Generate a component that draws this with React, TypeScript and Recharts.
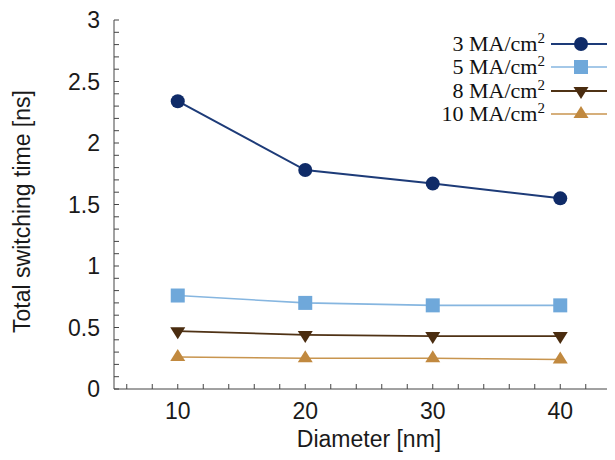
import { LineChart, Line, XAxis, YAxis, Legend, Label } from "recharts";

const diameters = [10, 20, 30, 40];
const time3 = [2.34, 1.78, 1.67, 1.55];
const time5 = [0.76, 0.7, 0.68, 0.68];
const time8 = [0.47, 0.44, 0.43, 0.43];
const time10 = [0.26, 0.25, 0.25, 0.24];
const seriesNames = ["3 MA/cm²", "5 MA/cm²", "8 MA/cm²", "10 MA/cm²"];

const xLabels = [10, 20, 30, 40];
const xTicks = Array.from({ length: 20 }, (_, i) => 6 + 2 * i);
const yLabels = [0, 0.5, 1, 1.5, 2, 2.5, 3];
const yTicks = Array.from({ length: 31 }, (_, i) => i / 10);

const data = diameters.map((d, i) => ({
  d,
  s3: time3[i],
  s5: time5[i],
  s8: time8[i],
  s10: time10[i],
}));

const series = [
  { key: "s3", name: seriesNames[0], fill: "#0f2b68", stroke: "#1d3b78", width: 2, shape: "circle" },
  { key: "s5", name: seriesNames[1], fill: "#6fa8da", stroke: "#86b6e0", width: 1.6, shape: "square" },
  { key: "s8", name: seriesNames[2], fill: "#4a2c0f", stroke: "#4f3215", width: 1.8, shape: "down" },
  { key: "s10", name: seriesNames[3], fill: "#c1893f", stroke: "#c8954f", width: 1.6, shape: "up" },
];

const SANS = '"Liberation Sans", Arial, sans-serif';
const SERIF = '"Liberation Serif", "Times New Roman", serif';
const AXIS = "#444";

function marker(shape: string, fill: string, cx: number, cy: number, key?: string) {
  if (shape === "circle") return <circle key={key} cx={cx} cy={cy} r={7} fill={fill} />;
  if (shape === "square") return <rect key={key} x={cx - 7} y={cy - 7} width={14} height={14} fill={fill} />;
  if (shape === "down")
    return <polygon key={key} points={`${cx - 7.5},${cy - 4} ${cx + 7.5},${cy - 4} ${cx},${cy + 8}`} fill={fill} />;
  return <polygon key={key} points={`${cx - 7.5},${cy + 4} ${cx + 7.5},${cy + 4} ${cx},${cy - 8}`} fill={fill} />;
}

const BottomTick = (p: any) => {
  const v = p.payload.value;
  return (
    <g>
      <line x1={p.x} x2={p.x} y1={p.y} y2={p.y - 5} stroke={AXIS} />
      {xLabels.includes(v) && (
        <text x={p.x} y={p.y + 30} textAnchor="middle" fontSize={23} fontFamily={SANS} fill="#1a1a1a">
          {v}
        </text>
      )}
    </g>
  );
};

const TopTick = (p: any) => <line x1={p.x} x2={p.x} y1={p.y} y2={p.y + 5} stroke={AXIS} />;

const LeftTick = (p: any) => {
  const v = p.payload.value;
  const major = yLabels.some((l) => Math.abs(l - v) < 1e-6);
  return (
    <g>
      <line x1={p.x} x2={p.x + 5} y1={p.y} y2={p.y} stroke={AXIS} />
      {major && (
        <text x={p.x - 14} y={p.y + 8} textAnchor="end" fontSize={23} fontFamily={SANS} fill="#1a1a1a">
          {Math.round(v * 10) / 10}
        </text>
      )}
    </g>
  );
};

const YTitle = (p: any) => {
  const vb = p.viewBox;
  const cx = vb.x + 4;
  const cy = vb.y + vb.height / 2 + 7;
  return (
    <text
      x={cx + 8}
      y={cy}
      transform={`rotate(-90 ${cx + 8} ${cy})`}
      textAnchor="middle"
      fontSize={23}
      fontFamily={SANS}
      fill="#1a1a1a"
    >
      Total switching time [ns]
    </text>
  );
};

// the "²" is drawn as a raised digit, like the original legend
const legendText = (name: string) => {
  const [base] = name.split("²");
  return (
    <span style={{ fontFamily: SERIF, fontSize: 22, lineHeight: 1, color: "#111", whiteSpace: "nowrap" }}>
      {base}
      <span style={{ fontSize: 15, position: "relative", top: -8 }}>2</span>
    </span>
  );
};

const LegendBox = (props: any) => {
  const items = props.payload || [];
  return (
    <div>
      {series.map((s) => {
        const item = items.find((it: any) => it.dataKey === s.key);
        if (!item) return null;
        return (
          <div
            key={s.key}
            style={{ height: 23.5, display: "flex", justifyContent: "flex-end", alignItems: "center" }}
          >
            {legendText(String(item.value))}
            <svg width={60} height={20} style={{ marginLeft: 6 }}>
              <line x1={0} x2={60} y1={10} y2={10} stroke={s.stroke} strokeWidth={s.width} />
              {marker(s.shape, s.fill, 30, 10)}
            </svg>
          </div>
        );
      })}
    </div>
  );
};

export default function App() {
  return (
    <div style={{ width: 605, height: 444, overflow: "hidden" }}>
      <LineChart width={620} height={444} data={data} margin={{ top: 12, right: 4, bottom: 1, left: 10 }}>
        <XAxis
          dataKey="d"
          type="number"
          domain={[5, 45]}
          ticks={xTicks}
          interval={0}
          tickSize={0}
          tickMargin={0}
          tickLine={false}
          tick={BottomTick}
          height={62}
          axisLine={{ stroke: AXIS }}
        >
          <Label value="Diameter [nm]" position="insideBottom" offset={4} fontSize={23} fontFamily={SANS} fill="#1a1a1a" />
        </XAxis>
        <XAxis
          xAxisId="top"
          dataKey="d"
          type="number"
          orientation="top"
          domain={[5, 45]}
          ticks={xTicks}
          interval={0}
          tickSize={0}
          tickMargin={0}
          tickLine={false}
          tick={TopTick}
          height={0}
          axisLine={{ stroke: AXIS }}
        />
        <YAxis
          type="number"
          domain={[0, 3]}
          ticks={yTicks}
          interval={0}
          tickSize={0}
          tickMargin={0}
          tickLine={false}
          tick={LeftTick}
          width={96}
          axisLine={{ stroke: AXIS }}
        >
          <Label content={YTitle} />
        </YAxis>
        <Legend
          layout="vertical"
          align="center"
          verticalAlign="middle"
          wrapperStyle={{ left: 380, top: 24, width: 223 }}
          content={LegendBox}
        />
        {series.map((s) => (
          <Line
            key={s.key}
            dataKey={s.key}
            name={s.name}
            stroke={s.stroke}
            strokeWidth={s.width}
            isAnimationActive={false}
            dot={(p: any) => marker(s.shape, s.fill, p.cx, p.cy, `${s.key}-${p.index}`)}
            activeDot={false}
          />
        ))}
      </LineChart>
    </div>
  );
}
